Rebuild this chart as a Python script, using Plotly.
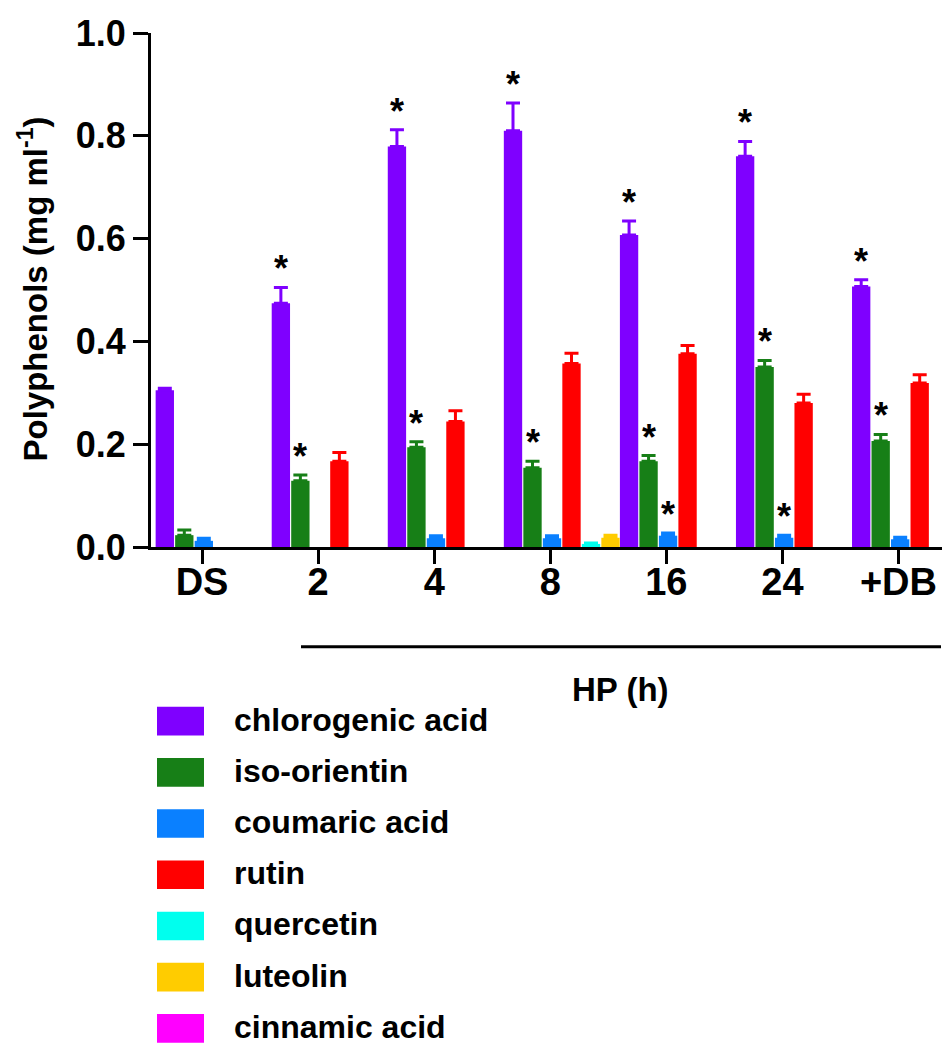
import plotly.graph_objects as go

# Groups along the x axis (DS, then hours of HP, then +DB)
categories = ["DS", "2", "4", "8", "16", "24", "+DB"]

# Series names and colours, in GraphPad order
series_names = [
    "chlorogenic acid",
    "iso-orientin",
    "coumaric acid",
    "rutin",
    "quercetin",
    "luteolin",
    "cinnamic acid",
]
series_colors = ["#7F00FF", "#177F17", "#0A80FF", "#FF0000", "#00FFEE", "#FFCC00", "#FF00FF"]

# Mean values (mg/ml), None = not detected
chlorogenic = [0.305, 0.474, 0.779, 0.810, 0.607, 0.760, 0.507]
iso_orientin = [0.023, 0.129, 0.194, 0.154, 0.167, 0.350, 0.206]
coumaric = [0.012, None, 0.017, 0.017, 0.022, 0.018, 0.015]
rutin = [None, 0.167, 0.244, 0.357, 0.376, 0.280, 0.319]
quercetin = [None, None, None, 0.006, None, None, None]
luteolin = [None, None, None, 0.018, None, None, None]
cinnamic = [None, None, None, None, None, None, None]

# Upper error bars (SEM)
chlorogenic_err = [0.004, 0.031, 0.033, 0.054, 0.027, 0.029, 0.013]
iso_orientin_err = [0.010, 0.011, 0.011, 0.013, 0.011, 0.013, 0.013]
coumaric_err = [0.005, 0, 0.005, 0.005, 0.005, 0.005, 0.004]
rutin_err = [0, 0.017, 0.021, 0.020, 0.016, 0.017, 0.016]
quercetin_err = [0, 0, 0, 0.002, 0, 0, 0]
luteolin_err = [0, 0, 0, 0.005, 0, 0, 0]
cinnamic_err = [0, 0, 0, 0, 0, 0, 0]

# Significance stars (1 = "*" above the bar)
chlorogenic_star = [0, 1, 1, 1, 1, 1, 1]
iso_orientin_star = [0, 1, 1, 1, 1, 1, 1]
coumaric_star = [0, 0, 0, 0, 1, 1, 0]

# y ticks
y_ticks = [0.0, 0.2, 0.4, 0.6, 0.8, 1.0]

values = [chlorogenic, iso_orientin, coumaric, rutin, quercetin, luteolin, cinnamic]
errors = [chlorogenic_err, iso_orientin_err, coumaric_err, rutin_err,
          quercetin_err, luteolin_err, cinnamic_err]
stars = [chlorogenic_star, iso_orientin_star, coumaric_star]

FONT = "Arial, Liberation Sans, sans-serif"

# bar placement inside a group (category units)
start = -0.40
pitch = 0.168
bar_w = 0.158

# plot area in pixels, used for the hand-drawn legend and HP line
W, H = 950, 1049
L, R, T, B = 143, 945, 18, 539


def px_x(p):
    return (p - L) / (R - L)


def px_y(p):
    return (B - p) / (B - T)


fig = go.Figure()

for i in range(len(series_names)):
    fig.add_trace(go.Bar(
        x=categories,
        y=values[i],
        name=series_names[i],
        marker=dict(color=series_colors[i], line=dict(width=0)),
        offset=start + i * pitch,
        width=bar_w,
        error_y=dict(type="data", symmetric=False, array=errors[i],
                     arrayminus=[0] * len(categories),
                     color=series_colors[i], thickness=3, width=7),
        showlegend=False,
    ))

# asterisks above the error bars
for i in range(len(stars)):
    for g in range(len(categories)):
        if stars[i][g] and values[i][g] is not None:
            fig.add_annotation(
                x=g + start + i * pitch + bar_w / 2, xref="x",
                y=values[i][g] + errors[i][g], yref="y",
                text="*", showarrow=False, yanchor="bottom", yshift=-4,
                font=dict(family=FONT, size=36, color="black", weight="bold"),
            )

# legend drawn by hand so the swatches can be large
for i in range(len(series_names)):
    top = 701 + i * 51.9
    fig.add_shape(type="rect", xref="paper", yref="paper",
                  x0=px_x(149), x1=px_x(196), y0=px_y(top + 29), y1=px_y(top),
                  fillcolor=series_colors[i], line=dict(width=0))
    fig.add_annotation(xref="paper", yref="paper", x=px_x(224), y=px_y(top + 13),
                       xanchor="left", yanchor="middle", showarrow=False,
                       text=series_names[i],
                       font=dict(family=FONT, size=32, color="black", weight="bold"))

# HP (h) bracket under the time points
fig.add_shape(type="line", xref="paper", yref="paper",
              x0=px_x(293), x1=px_x(933), y0=px_y(640), y1=px_y(640),
              line=dict(color="black", width=3))
fig.add_annotation(xref="paper", yref="paper", x=px_x(612), y=px_y(683),
                   xanchor="center", yanchor="middle", showarrow=False,
                   text="HP (h)",
                   font=dict(family=FONT, size=33, color="black", weight="bold"))

# y axis title
fig.add_annotation(xref="paper", yref="paper", x=px_x(25), y=px_y(278),
                   xanchor="center", yanchor="middle", showarrow=False,
                   textangle=-90, text="Polyphenols (mg ml<sup>-1</sup>)",
                   font=dict(family=FONT, size=33, color="black", weight="bold"))

fig.update_layout(
    width=W, height=H,
    margin=dict(l=L, r=W - R, t=T, b=H - B),
    plot_bgcolor="white", paper_bgcolor="white",
    barmode="overlay",
    font=dict(family=FONT, color="black"),
)
fig.update_xaxes(
    type="category", range=[-0.44, 6.47],
    showline=True, linewidth=3, linecolor="black",
    ticks="outside", ticklen=14, tickwidth=3, tickcolor="black",
    tickfont=dict(family=FONT, size=38, weight="bold"),
    ticklabelstandoff=-15,
    showgrid=False, zeroline=False,
)
fig.update_yaxes(
    range=[0, 1.0], tickmode="array", tickvals=y_ticks,
    ticktext=["%.1f" % v for v in y_ticks],
    ticklabeloverflow="allow",
    showline=True, linewidth=3, linecolor="black",
    ticks="outside", ticklen=15, tickwidth=3, tickcolor="black",
    tickfont=dict(family=FONT, size=36, weight="bold"),
    showgrid=False, zeroline=False,
)

fig.write_html("out.html")
